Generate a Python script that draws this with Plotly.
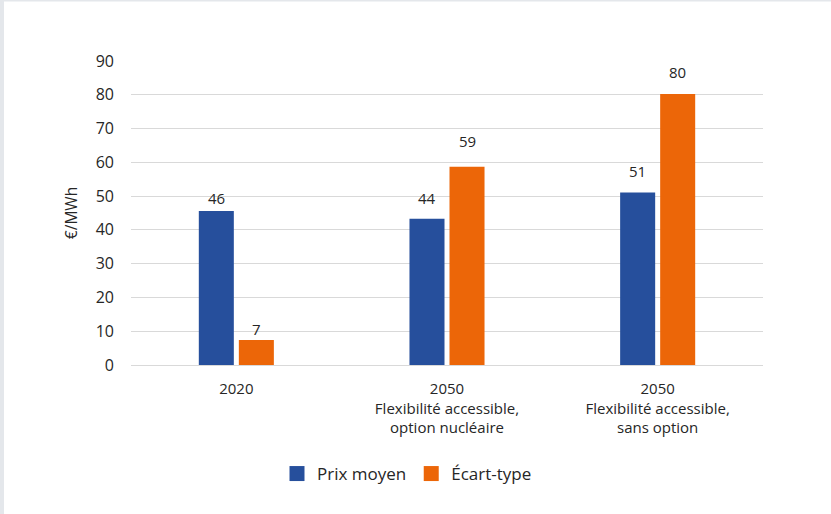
import plotly.graph_objects as go

categories = ["2020",
              "2050<br>Flexibilité accessible,<br>option nucléaire",
              "2050<br>Flexibilité accessible,<br>sans option"]
series_names = ["Prix moyen", "Écart-type"]
prix_moyen = [45.6, 43.3, 51.1]
ecart_type = [7.4, 58.7, 80.2]
prix_labels = ["46", "44", "51"]
ecart_labels = ["7", "59", "80"]
y_ticks = [0, 10, 20, 30, 40, 50, 60, 70, 80, 90]

colors = ["#264f9c", "#ec6608"]
font_family = "Open Sans, Noto Sans, sans-serif"
text_color = "#262626"

# label vertical offsets (pixels above bar top, centre of label)
prix_offsets = [13, 21, 21]
ecart_offsets = [11, 26, 22]

fig = go.Figure()
for name, vals, col in zip(series_names, [prix_moyen, ecart_type], colors):
    fig.add_trace(go.Bar(x=categories, y=vals, name=name, showlegend=False,
                         marker=dict(color=col, line=dict(width=0))))
# legend entries with larger square swatches
for name, col in zip(series_names, colors):
    fig.add_trace(go.Scatter(x=[None], y=[None], mode="markers", name=name,
                             marker=dict(symbol="square", size=15, color=col)))

annotations = []
for idx, (vals, labs, offs) in enumerate([(prix_moyen, prix_labels, prix_offsets),
                                          (ecart_type, ecart_labels, ecart_offsets)]):
    for i, (v, lab, off) in enumerate(zip(vals, labs, offs)):
        annotations.append(dict(
            x=i + (-0.095 if idx == 0 else 0.095), y=v, xref="x", yref="y", text=lab,
            showarrow=False, yanchor="middle", yshift=off,
            font=dict(family=font_family, size=15, color=text_color)))

# light grey frame strips (left and top)
L, R, T, B = 131, 68, 61, 149
W, H = 831, 514
pw, ph = W - L - R, H - T - B
def px_x(p):
    return (p - L) / pw
def px_y(p):
    return (H - B - p) / ph

shapes = [
    dict(type="rect", xref="paper", yref="paper",
         x0=px_x(0), x1=px_x(4), y0=px_y(H), y1=px_y(0),
         fillcolor="#e4e7eb", line=dict(width=0), layer="below"),
    dict(type="rect", xref="paper", yref="paper",
         x0=px_x(0), x1=px_x(W), y0=px_y(1.5), y1=px_y(0),
         fillcolor="#e4e7eb", line=dict(width=0), layer="below"),
]

fig.update_layout(
    width=W, height=H,
    margin=dict(l=L, r=R, t=T, b=B, pad=0),
    paper_bgcolor="white", plot_bgcolor="white",
    barmode="group", bargap=0.62, bargroupgap=0.125,
    font=dict(family=font_family, size=15, color=text_color),
    showlegend=True,
    legend=dict(orientation="h", x=px_x(407), xanchor="center", y=px_y(474), yanchor="middle",
                font=dict(size=17, color=text_color), traceorder="normal",
                itemclick=False, tracegroupgap=0),
    annotations=annotations,
    shapes=shapes,
    xaxis=dict(type="category", showgrid=False, showline=False, zeroline=False, ticks="",
               tickfont=dict(size=15, color=text_color), ticklabelstandoff=13,
               fixedrange=True),
    yaxis=dict(range=[0, 90], tickvals=y_ticks, showgrid=True, gridcolor="#d9d9d9",
               gridwidth=1, zeroline=True, zerolinecolor="#d9d9d9", zerolinewidth=1,
               showline=False, ticks="", ticklabelstandoff=16,
               tickfont=dict(size=16, color=text_color),
               title=dict(text="€/MWh", font=dict(size=15.5, color=text_color), standoff=14)),
)

fig.write_html("out.html")
